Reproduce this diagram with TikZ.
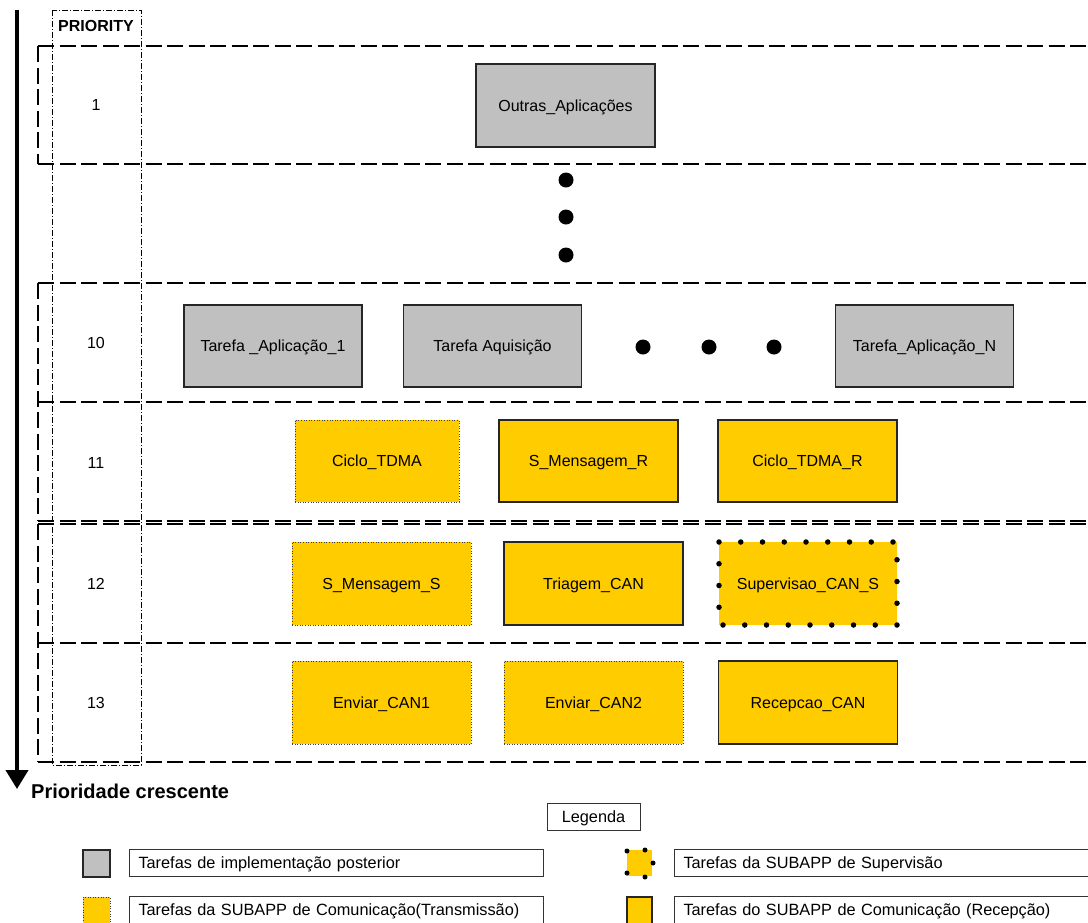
\documentclass[tikz,border=0pt]{standalone}
\usepackage{fontspec}
\setmainfont{Liberation Sans}
\usetikzlibrary{arrows.meta}
\definecolor{taskgray}{HTML}{C0C0C0}
\definecolor{taskyellow}{HTML}{FFCC00}
\begin{document}
\begin{tikzpicture}[x=1pt,y=-1pt,
  lbl/.style={font=\fontsize{16}{18}\selectfont, inner sep=0pt, text height=14pt, text depth=2.5pt},
  leglbl/.style={font=\fontsize{16.3}{19}\selectfont, inner sep=0pt, text height=14pt, text depth=2.5pt},
  task/.style={lbl, minimum width=179pt, minimum height=83pt, outer sep=0pt},
  later/.style={task, fill=taskgray, draw=black!85, line width=1.2pt},
  rxtask/.style={task, fill=taskyellow, draw=black!85, line width=1.2pt},
  txtask/.style={task, fill=taskyellow, draw=black!75, line width=0.9pt, dash pattern=on 1pt off 1.6pt},
  suptask/.style={task, fill=taskyellow},
  supdots/.style={line width=5.5pt, line cap=round, dash pattern=on 0pt off 21.75pt},
  rowline/.style={line width=2.8pt, dash pattern=on 16pt off 5.5pt},
  bigdot/.style={circle, fill=black, minimum size=15pt, inner sep=0pt},
  smalldot/.style={circle, fill=black, minimum size=5pt, inner sep=0pt},
  legbox/.style={draw=black!80, line width=1pt, leglbl, anchor=north west, minimum height=27pt,
    inner xsep=9pt, align=left},
  legsq/.style={minimum width=27pt, minimum height=27pt, outer sep=0pt, inner sep=0pt}]
\useasboundingbox (0,0) rectangle (1088,922);
\clip (0,0) rectangle (1088,922);

% priority column and increasing-priority arrow
\draw[line width=0.8pt, dash pattern=on 6pt off 2pt on 1pt off 2pt] (52,10) rectangle (141,765);
\node[font=\fontsize{16}{18}\selectfont\bfseries, inner sep=0pt] (prio) at (96,26) {PRIORITY};
\coordinate (arrtop) at (17,10);
\coordinate (arrtip) at (17,789);
\draw[line width=4pt, -{Triangle[width=22pt,length=19pt]}] (arrtop) -- (arrtip);
\node[font=\fontsize{20}{22}\selectfont\bfseries, anchor=west, inner sep=0pt] (inc) at (31,791) {Prioridade crescente};

% priority bands: horizontal separators
\foreach \yy in {46,164,283,402,521,524,643,762}
  \draw[rowline] (38,\yy) -- (1100,\yy);
% priority bands: left edges
\draw[rowline] (38,46) -- (38,164);
\draw[rowline] (38,283) -- (38,521);
\draw[rowline] (38,524) -- (38,762);

% priority numbers
\node[lbl] (p1) at (96,105) {1};
\node[lbl] (p10) at (96,343) {10};
\node[lbl] (p11) at (96,463) {11};
\node[lbl] (p12) at (96,584) {12};
\node[lbl] (p13) at (96,703) {13};

% priority 1
\node[later] (oa) at (565.5,105.5) {Outras\_Aplicações};
\node[bigdot] (vd1) at (566,180) {};
\node[bigdot] (vd2) at (566,217) {};
\node[bigdot] (vd3) at (566,255) {};

% priority 10
\node[later, minimum width=178pt, minimum height=82pt] (t1) at (273,346) {Tarefa \_Aplicação\_1};
\node[later, minimum width=178pt, minimum height=82pt] (taq) at (492.5,346) {Tarefa Aquisição};
\node[bigdot] (hd1) at (643,347) {};
\node[bigdot] (hd2) at (709,347) {};
\node[bigdot] (hd3) at (774,347) {};
\node[later, minimum width=178pt, minimum height=82pt] (tN) at (924.5,346) {Tarefa\_Aplicação\_N};

% priority 11
\node[txtask, minimum width=164pt, minimum height=82pt] (ctdma) at (377,461) {Ciclo\_TDMA};
\node[rxtask, minimum height=82pt] (smr) at (588.5,461) {S\_Mensagem\_R};
\node[rxtask, minimum height=82pt] (ctdmar) at (807.5,461) {Ciclo\_TDMA\_R};

% priority 12
\node[txtask] (sms) at (381.5,583.5) {S\_Mensagem\_S};
\node[rxtask] (tri) at (593.5,583.5) {Triagem\_CAN};
\node[suptask, minimum width=178pt] (sup) at (808,583.5) {Supervisao\_CAN\_S};
\draw[supdots] (sup.north west) rectangle (sup.south east);

% priority 13
\node[txtask] (e1) at (381.5,702.5) {Enviar\_CAN1};
\node[txtask] (e2) at (593.5,702.5) {Enviar\_CAN2};
\node[rxtask] (rc) at (808,702.5) {Recepcao\_CAN};

% legend
\node[leglbl, draw=black!80, line width=1pt, minimum width=93pt, minimum height=27pt] (leg) at (593.5,816.5) {Legenda};

\node[legsq, fill=taskgray, draw=black!85, line width=1.2pt] (lsq1) at (96.5,863.5) {};
\node[legbox, text width=396pt] (lt1) at (129,849) {Tarefas de implementação posterior};

\node[legsq, fill=taskyellow, draw=black!75, line width=0.9pt, dash pattern=on 1pt off 1.6pt] (lsq2) at (96.5,910.5) {};
\node[legbox, text width=396pt] (lt2) at (129,896) {Tarefas da SUBAPP de Comunicação(Transmissão)};

\node[legsq, fill=taskyellow, minimum width=25pt, minimum height=26pt] (lsq3) at (639.5,863) {};
\node[smalldot] (ld1) at (627,851) {};
\node[smalldot] (ld2) at (645,850) {};
\node[smalldot] (ld3) at (653,863) {};
\node[smalldot] (ld4) at (627,873) {};
\node[smalldot] (ld5) at (645,877) {};
\node[legbox, text width=420pt] (lt3) at (674,849) {Tarefas da SUBAPP de Supervisão};

\node[legsq, fill=taskyellow, draw=black!85, line width=1.2pt, minimum width=25pt] (lsq4) at (639.5,910.5) {};
\node[legbox, text width=420pt] (lt4) at (674,896) {Tarefas do SUBAPP de Comunicação (Recepção)};
\end{tikzpicture}
\end{document}
